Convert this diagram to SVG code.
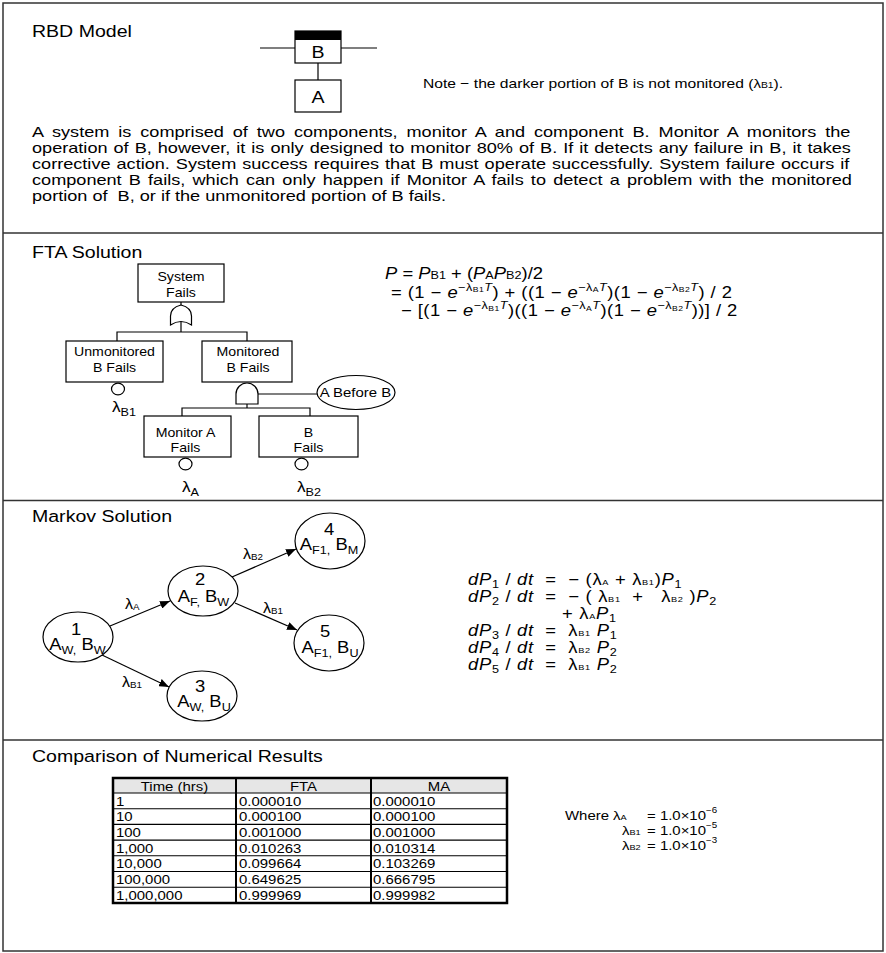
<svg xmlns="http://www.w3.org/2000/svg" width="886" height="953" viewBox="0 0 886 953">
<defs>
<style>
text{font-family:"Liberation Sans",Arial,Helvetica,sans-serif;fill:#000}
.ttl{font-size:17px}
.par{font-size:14.5px}
.box{font-size:12.3px}
.i{font-style:italic}
.eq{font-size:16px}
.tb{font-size:13px}
.sh{fill:#fff;stroke:#000;stroke-width:1.2}
.ln{fill:none;stroke:#000;stroke-width:1.2}
.frame{fill:none;stroke:#333;stroke-width:1.5}
.arr{fill:none;stroke:#000;stroke-width:1.2;marker-end:url(#ah)}
</style>
<marker id="ah" viewBox="0 0 10 8" refX="10" refY="4" markerWidth="10" markerHeight="8" markerUnits="userSpaceOnUse" orient="auto"><path d="M0,0L10,4L0,8Z" fill="#000"/></marker>
</defs>
<rect width="886" height="953" fill="#fff"/>
<g id="frame">
<rect class="frame" x="3" y="3" width="880" height="948"/>
<line class="frame" x1="3" y1="233" x2="883" y2="233"/>
<line class="frame" x1="3" y1="500.5" x2="883" y2="500.5"/>
<line class="frame" x1="3" y1="740" x2="883" y2="740"/>
</g>

<!-- RBD -->
<g id="rbd-title"><text class="ttl" transform="translate(32 37) scale(1.15 1)">RBD Model</text></g>
<g id="connectors-rbd">
<line class="ln" x1="260" y1="48" x2="295" y2="48"/>
<line class="ln" x1="341" y1="48" x2="377" y2="48"/>
<line class="ln" x1="318" y1="63" x2="318" y2="80"/>
</g>
<g id="rbd-B"><rect class="sh" x="295" y="31" width="46" height="32"/><rect x="295" y="31" width="46" height="9" fill="#000"/><text font-size="17" text-anchor="middle" transform="translate(318 57.5) scale(1.15 1)">B</text></g>
<g id="rbd-A"><rect class="sh" x="295" y="80" width="46" height="32"/><text font-size="17" text-anchor="middle" transform="translate(318 102.5) scale(1.15 1)">A</text></g>
<g id="rbd-note"><text font-size="13.6" transform="translate(423 88) scale(1.15 1)">Note − the darker portion of B is not monitored (<tspan font-size="13">λ</tspan><tspan font-size="9">B1</tspan>).</text></g>
<g id="paragraph">
<text class="par" word-spacing="3.1" transform="translate(32 137) scale(1.25 1)">A system is comprised of two components, monitor A and component B. Monitor A monitors the</text>
<text class="par" word-spacing="0.77" transform="translate(32 153) scale(1.25 1)">operation of B, however, it is only designed to monitor 80% of B. If it detects any failure in B, it takes</text>
<text class="par" word-spacing="0.75" transform="translate(32 169) scale(1.25 1)">corrective action. System success requires that B must operate successfully. System failure occurs if</text>
<text class="par" word-spacing="1.71" transform="translate(32 185) scale(1.25 1)">component B fails, which can only happen if Monitor A fails to detect a problem with the monitored</text>
<text class="par" transform="translate(32 201) scale(1.25 1)">portion of&#160; B, or if the unmonitored portion of B fails.</text>
</g>

<!-- FTA -->
<g id="fta-title"><text class="ttl" transform="translate(32 258) scale(1.15 1)">FTA Solution</text></g>
<g id="connectors-fta">
<line class="ln" x1="181" y1="302" x2="181" y2="305"/>
<line class="ln" x1="181" y1="321" x2="181" y2="332"/>
<polyline class="ln" points="117,341 117,332 247,332 247,341"/>
<line class="ln" x1="258" y1="394" x2="317" y2="394"/>
<line class="ln" x1="247" y1="404" x2="247" y2="408"/>
<polyline class="ln" points="182,416 182,408 310,408 310,416"/>
</g>
<g id="fta-system-fails"><rect class="sh" x="138" y="264" width="86" height="38"/>
<text class="box" text-anchor="middle" transform="translate(181 281) scale(1.15 1)">System</text>
<text class="box" text-anchor="middle" transform="translate(181 297) scale(1.15 1)">Fails</text></g>
<g id="fta-or-gate"><path class="sh" d="M170.5,325 L170.5,316 C170.5,310 175,306.5 181,305 C187,306.5 191.5,310 191.5,316 L191.5,325 Q181,318 170.5,325 Z"/></g>
<g id="fta-unmonitored"><rect class="sh" x="66" y="341" width="97" height="41"/>
<text class="box" text-anchor="middle" transform="translate(114.5 356) scale(1.15 1)">Unmonitored</text>
<text class="box" text-anchor="middle" transform="translate(114.5 372) scale(1.15 1)">B Fails</text></g>
<g id="fta-monitored"><rect class="sh" x="202" y="341" width="90" height="41"/>
<text class="box" text-anchor="middle" transform="translate(248 356) scale(1.15 1)">Monitored</text>
<text class="box" text-anchor="middle" transform="translate(248 372) scale(1.15 1)">B Fails</text></g>
<g id="fta-and-gate"><path class="sh" d="M236,404 L236,394 A11,11 0 0 1 258,394 L258,404 Z"/></g>
<g id="fta-condition"><ellipse class="sh" cx="356" cy="392.5" rx="39" ry="17"/>
<text font-size="13" text-anchor="middle" transform="translate(355.5 397) scale(1.15 1)">A Before B</text></g>
<g id="fta-monitor-a"><rect class="sh" x="144" y="416" width="87" height="41"/>
<text class="box" text-anchor="middle" transform="translate(185.5 437) scale(1.15 1)">Monitor A</text>
<text class="box" text-anchor="middle" transform="translate(185.5 452) scale(1.15 1)">Fails</text></g>
<g id="fta-b-fails"><rect class="sh" x="259" y="416" width="99" height="41"/>
<text class="box" text-anchor="middle" transform="translate(308.5 437) scale(1.15 1)">B</text>
<text class="box" text-anchor="middle" transform="translate(308.5 452) scale(1.15 1)">Fails</text></g>
<g id="fta-basic-b1"><ellipse class="sh" cx="118" cy="389" rx="6.5" ry="5.8"/>
<text transform="translate(112 412) scale(1.15 1)"><tspan font-size="15">λ</tspan><tspan font-size="11" dy="4">B1</tspan></text></g>
<g id="fta-basic-a"><ellipse class="sh" cx="185.5" cy="464" rx="6.5" ry="5.8"/>
<text transform="translate(182 492) scale(1.15 1)"><tspan font-size="15">λ</tspan><tspan font-size="11" dy="4">A</tspan></text></g>
<g id="fta-basic-b2"><ellipse class="sh" cx="301.5" cy="464" rx="6.5" ry="5.8"/>
<text transform="translate(297 492) scale(1.15 1)"><tspan font-size="15">λ</tspan><tspan font-size="11" dy="4">B2</tspan></text></g>
<g id="fta-equations">
<text class="eq" transform="translate(385 279) scale(1.15 1)"><tspan class="i">P</tspan> = <tspan class="i">P</tspan><tspan font-size="11">B1</tspan> + (<tspan class="i">P</tspan><tspan font-size="11">A</tspan><tspan class="i">P</tspan><tspan font-size="11">B2</tspan>)/2</text>
<text class="eq" letter-spacing="0.4" transform="translate(391 297.5) scale(1.15 1)">= (1 − <tspan class="i">e</tspan><tspan font-size="11" dy="-7">−λ</tspan><tspan font-size="7.5" dy="1.5">B1</tspan><tspan font-size="11" class="i" dy="-1.5">T</tspan><tspan dy="7">) + ((1 − </tspan><tspan class="i">e</tspan><tspan font-size="11" dy="-7">−λ</tspan><tspan font-size="7.5" dy="1.5">A</tspan><tspan font-size="11" class="i" dy="-1.5">T</tspan><tspan dy="7">)(1 − </tspan><tspan class="i">e</tspan><tspan font-size="11" dy="-7">−λ</tspan><tspan font-size="7.5" dy="1.5">B2</tspan><tspan font-size="11" class="i" dy="-1.5">T</tspan><tspan dy="7">) / 2</tspan></text>
<text class="eq" letter-spacing="0.4" transform="translate(401 316) scale(1.15 1)">− [(1 − <tspan class="i">e</tspan><tspan font-size="11" dy="-7">−λ</tspan><tspan font-size="7.5" dy="1.5">B1</tspan><tspan font-size="11" class="i" dy="-1.5">T</tspan><tspan dy="7">)((1 − </tspan><tspan class="i">e</tspan><tspan font-size="11" dy="-7">−λ</tspan><tspan font-size="7.5" dy="1.5">A</tspan><tspan font-size="11" class="i" dy="-1.5">T</tspan><tspan dy="7">)(1 − </tspan><tspan class="i">e</tspan><tspan font-size="11" dy="-7">−λ</tspan><tspan font-size="7.5" dy="1.5">B2</tspan><tspan font-size="11" class="i" dy="-1.5">T</tspan><tspan dy="7">))] / 2</tspan></text>
</g>

<!-- Markov -->
<g id="markov-title"><text class="ttl" transform="translate(32 522) scale(1.15 1)">Markov Solution</text></g>
<g id="connectors-markov">
<line class="arr" x1="110" y1="626" x2="170" y2="601"/>
<line class="arr" x1="102" y1="655" x2="169" y2="687"/>
<line class="arr" x1="232" y1="577" x2="296" y2="549"/>
<line class="arr" x1="235" y1="603" x2="297" y2="630"/>
<text transform="translate(125 609) scale(1.15 1)"><tspan font-size="14">λ</tspan><tspan font-size="8.5" dy="1">A</tspan></text>
<text transform="translate(122 687) scale(1.15 1)"><tspan font-size="14">λ</tspan><tspan font-size="8.5" dy="1">B1</tspan></text>
<text transform="translate(243 559) scale(1.15 1)"><tspan font-size="14">λ</tspan><tspan font-size="8.5" dy="1">B2</tspan></text>
<text transform="translate(263 613) scale(1.15 1)"><tspan font-size="14">λ</tspan><tspan font-size="8.5" dy="1">B1</tspan></text>
</g>
<g id="state-1"><ellipse class="sh" cx="78" cy="637" rx="35" ry="25"/>
<text font-size="16" text-anchor="middle" transform="translate(76 635) scale(1.15 1)">1</text>
<text font-size="16" text-anchor="middle" transform="translate(77.5 650) scale(1.15 1)">A<tspan font-size="11" dy="4">W,</tspan><tspan dy="-4"> B</tspan><tspan font-size="11" dy="4">W</tspan></text></g>
<g id="state-2"><ellipse class="sh" cx="203" cy="591" rx="35" ry="25"/>
<text font-size="16" text-anchor="middle" transform="translate(200 585) scale(1.15 1)">2</text>
<text font-size="16" text-anchor="middle" transform="translate(203.5 602) scale(1.15 1)">A<tspan font-size="11" dy="4">F,</tspan><tspan dy="-4"> B</tspan><tspan font-size="11" dy="4">W</tspan></text></g>
<g id="state-3"><ellipse class="sh" cx="202" cy="696" rx="35" ry="25"/>
<text font-size="16" text-anchor="middle" transform="translate(200 692) scale(1.15 1)">3</text>
<text font-size="16" text-anchor="middle" transform="translate(204 707) scale(1.15 1)">A<tspan font-size="11" dy="4">W,</tspan><tspan dy="-4"> B</tspan><tspan font-size="11" dy="4">U</tspan></text></g>
<g id="state-4"><ellipse class="sh" cx="330" cy="541" rx="35" ry="28"/>
<text font-size="16" text-anchor="middle" transform="translate(329 535) scale(1.15 1)">4</text>
<text font-size="16" text-anchor="middle" transform="translate(329 550) scale(1.15 1)">A<tspan font-size="11" dy="4">F1,</tspan><tspan dy="-4"> B</tspan><tspan font-size="11" dy="4">M</tspan></text></g>
<g id="state-5"><ellipse class="sh" cx="329" cy="643" rx="35" ry="28"/>
<text font-size="16" text-anchor="middle" transform="translate(325 637) scale(1.15 1)">5</text>
<text font-size="16" text-anchor="middle" transform="translate(330 653) scale(1.15 1)">A<tspan font-size="11" dy="4">F1,</tspan><tspan dy="-4"> B</tspan><tspan font-size="11" dy="4">U</tspan></text></g>
<g id="markov-equations">
<text class="eq" letter-spacing="0.6" xml:space="preserve" transform="translate(468 585) scale(1.15 1)"><tspan class="i">dP</tspan><tspan font-size="11" dy="3">1</tspan><tspan dy="-3"> / </tspan><tspan class="i">dt</tspan>  =  − (λ<tspan font-size="8">A</tspan> + λ<tspan font-size="8">B1</tspan>)<tspan class="i">P</tspan><tspan font-size="11" dy="3">1</tspan></text>
<text class="eq" letter-spacing="0.6" xml:space="preserve" transform="translate(468 602) scale(1.15 1)"><tspan class="i">dP</tspan><tspan font-size="11" dy="3">2</tspan><tspan dy="-3"> / </tspan><tspan class="i">dt</tspan>  =  − ( λ<tspan font-size="8">B1</tspan>  +   λ<tspan font-size="8">B2</tspan> )<tspan class="i">P</tspan><tspan font-size="11" dy="3">2</tspan></text>
<text class="eq" letter-spacing="0.6" xml:space="preserve" transform="translate(562 618.5) scale(1.15 1)">+ λ<tspan font-size="8">A</tspan><tspan class="i">P</tspan><tspan font-size="11" dy="3">1</tspan></text>
<text class="eq" letter-spacing="0.6" xml:space="preserve" transform="translate(468 636) scale(1.15 1)"><tspan class="i">dP</tspan><tspan font-size="11" dy="3">3</tspan><tspan dy="-3"> / </tspan><tspan class="i">dt</tspan>  =  λ<tspan font-size="8">B1</tspan> <tspan class="i">P</tspan><tspan font-size="11" dy="3">1</tspan></text>
<text class="eq" letter-spacing="0.6" xml:space="preserve" transform="translate(468 653) scale(1.15 1)"><tspan class="i">dP</tspan><tspan font-size="11" dy="3">4</tspan><tspan dy="-3"> / </tspan><tspan class="i">dt</tspan>  =  λ<tspan font-size="8">B2</tspan> <tspan class="i">P</tspan><tspan font-size="11" dy="3">2</tspan></text>
<text class="eq" letter-spacing="0.6" xml:space="preserve" transform="translate(468 670) scale(1.15 1)"><tspan class="i">dP</tspan><tspan font-size="11" dy="3">5</tspan><tspan dy="-3"> / </tspan><tspan class="i">dt</tspan>  =  λ<tspan font-size="8">B1</tspan> <tspan class="i">P</tspan><tspan font-size="11" dy="3">2</tspan></text>
</g>

<!-- Comparison -->
<g id="comparison-title"><text class="ttl" transform="translate(32 762) scale(1.15 1)">Comparison of Numerical Results</text></g>
<g id="results-table">
<rect x="113" y="778" width="394" height="15" fill="#e6e6e6"/>
<g stroke="#000" stroke-width="1.1">
<line x1="113" y1="793" x2="507" y2="793"/>
<line x1="113" y1="808.7" x2="507" y2="808.7"/>
<line x1="113" y1="824.4" x2="507" y2="824.4"/>
<line x1="113" y1="840.1" x2="507" y2="840.1"/>
<line x1="113" y1="855.8" x2="507" y2="855.8"/>
<line x1="113" y1="871.5" x2="507" y2="871.5"/>
<line x1="113" y1="887.2" x2="507" y2="887.2"/>
</g>
<line x1="236" y1="778" x2="236" y2="903" stroke="#000" stroke-width="2"/>
<line x1="371" y1="778" x2="371" y2="903" stroke="#000" stroke-width="2"/>
<rect x="113" y="778" width="394" height="125" fill="none" stroke="#000" stroke-width="2.5"/>
<text class="tb" text-anchor="middle" transform="translate(174.5 790.5) scale(1.15 1)">Time (hrs)</text>
<text class="tb" text-anchor="middle" transform="translate(303.5 790.5) scale(1.15 1)">FTA</text>
<text class="tb" text-anchor="middle" transform="translate(439 790.5) scale(1.15 1)">MA</text>
<text class="tb" transform="translate(116 805.5) scale(1.15 1)">1</text>
<text class="tb" transform="translate(239 805.5) scale(1.15 1)">0.000010</text>
<text class="tb" transform="translate(373 805.5) scale(1.15 1)">0.000010</text>
<text class="tb" transform="translate(116 821.2) scale(1.15 1)">10</text>
<text class="tb" transform="translate(239 821.2) scale(1.15 1)">0.000100</text>
<text class="tb" transform="translate(373 821.2) scale(1.15 1)">0.000100</text>
<text class="tb" transform="translate(116 836.9) scale(1.15 1)">100</text>
<text class="tb" transform="translate(239 836.9) scale(1.15 1)">0.001000</text>
<text class="tb" transform="translate(373 836.9) scale(1.15 1)">0.001000</text>
<text class="tb" transform="translate(116 852.6) scale(1.15 1)">1,000</text>
<text class="tb" transform="translate(239 852.6) scale(1.15 1)">0.010263</text>
<text class="tb" transform="translate(373 852.6) scale(1.15 1)">0.010314</text>
<text class="tb" transform="translate(116 868.3) scale(1.15 1)">10,000</text>
<text class="tb" transform="translate(239 868.3) scale(1.15 1)">0.099664</text>
<text class="tb" transform="translate(373 868.3) scale(1.15 1)">0.103269</text>
<text class="tb" transform="translate(116 884) scale(1.15 1)">100,000</text>
<text class="tb" transform="translate(239 884) scale(1.15 1)">0.649625</text>
<text class="tb" transform="translate(373 884) scale(1.15 1)">0.666795</text>
<text class="tb" transform="translate(116 899.7) scale(1.15 1)">1,000,000</text>
<text class="tb" transform="translate(239 899.7) scale(1.15 1)">0.999969</text>
<text class="tb" transform="translate(373 899.7) scale(1.15 1)">0.999982</text>
</g>
<g id="where-values">
<text font-size="13" transform="translate(565 820) scale(1.15 1)">Where</text>
<text transform="translate(613 820) scale(1.15 1)"><tspan font-size="13">λ</tspan><tspan font-size="8">A</tspan></text>
<text transform="translate(622 835) scale(1.15 1)"><tspan font-size="13">λ</tspan><tspan font-size="8">B1</tspan></text>
<text transform="translate(622 850) scale(1.15 1)"><tspan font-size="13">λ</tspan><tspan font-size="8">B2</tspan></text>
<text font-size="13" transform="translate(647 820) scale(1.15 1)">= 1.0×10<tspan font-size="8.5" dy="-7">−6</tspan></text>
<text font-size="13" transform="translate(647 835) scale(1.15 1)">= 1.0×10<tspan font-size="8.5" dy="-7">−5</tspan></text>
<text font-size="13" transform="translate(647 850) scale(1.15 1)">= 1.0×10<tspan font-size="8.5" dy="-7">−3</tspan></text>
</g>
</svg>
